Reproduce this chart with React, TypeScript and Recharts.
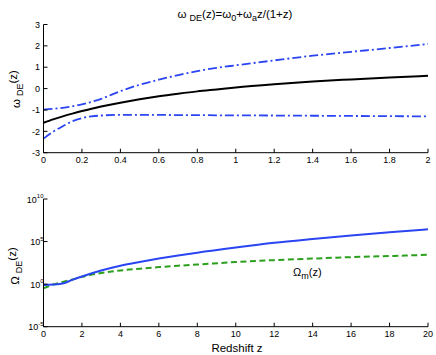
import { LineChart, Line, XAxis, YAxis } from "recharts"

const FONT = "'Liberation Sans', Arial, Helvetica, sans-serif"

// top panel: equation of state w_DE(z)
const wZ = [0, 0.05, 0.1, 0.15, 0.2, 0.25, 0.3, 0.4, 0.5, 0.6, 0.7, 0.8, 0.9, 1.0, 1.2, 1.4, 1.6, 1.8, 2.0]
const wBest = [-1.6, -1.44, -1.3, -1.17, -1.05, -0.94, -0.84, -0.66, -0.5, -0.36, -0.24, -0.13, -0.04, 0.05, 0.2, 0.33, 0.43, 0.52, 0.6]
const wUpper = [-0.98, -0.95, -0.9, -0.83, -0.74, -0.62, -0.48, -0.12, 0.18, 0.42, 0.63, 0.82, 0.97, 1.09, 1.32, 1.54, 1.72, 1.9, 2.09]
const wLower = [-2.34, -2.02, -1.76, -1.53, -1.38, -1.3, -1.26, -1.23, -1.23, -1.23, -1.24, -1.24, -1.25, -1.25, -1.26, -1.27, -1.28, -1.29, -1.3]
const wXTicks = [0, 0.2, 0.4, 0.6, 0.8, 1, 1.2, 1.4, 1.6, 1.8, 2]
const wYTicks = [-3, -2, -1, 0, 1, 2, 3]

// bottom panel: density parameters (log scale)
const omegaZ = [0, 0.5, 1, 1.5, 2, 3, 4, 5, 6, 7, 8, 10, 12, 14, 16, 18, 20]
const omegaDE = [0.8, 0.9, 1.2, 3.2, 8, 40, 145, 400, 1000, 2300, 5000, 20000, 71000, 200000, 525000, 1260000, 2800000]
const omegaM = [0.32, 0.89, 1.8, 3.5, 7.2, 20, 40, 66, 100, 145, 200, 400, 660, 1000, 1480, 2000, 2800]
const omegaXTicks = [0, 2, 4, 6, 8, 10, 12, 14, 16, 18, 20]
const omegaYTicks = [1e-5, 1, 1e5, 1e10]

const wData = wZ.map((z, i) => ({ z, best: wBest[i], upper: wUpper[i], lower: wLower[i] }))
const omegaData = omegaZ.map((z, i) => ({ z, de: omegaDE[i], m: omegaM[i] }))

const tickStyle = { fontSize: 9, fill: "#000", fontFamily: FONT }
const BLUE = "#2b45f2"
const GREEN = "#2ba01c"

function PowerTick({ x, y, payload }: any) {
  const exp = Math.round(Math.log10(payload.value))
  return (
    <text x={x} y={y} dy={3.5} textAnchor="end" fontSize={9} fill="#000" fontFamily={FONT}>
      10
      <tspan dy={-4.5} fontSize={6}>
        {exp}
      </tspan>
    </text>
  )
}

const noTick = () => <g />

export default function App() {
  return (
    <div style={{ position: "absolute", left: 0, top: 0, width: 436, height: 355, background: "#fff" }}>
      <div style={{ position: "absolute", left: 0, top: 0 }}>
        <LineChart width={436} height={180} data={wData} margin={{ top: 24.5, right: 8, bottom: 0, left: 0 }}>
          <XAxis
            dataKey="z"
            type="number"
            domain={[0, 2]}
            ticks={wXTicks}
            height={27.3}
            tickSize={-4}
            tickMargin={8}
            tick={tickStyle}
            stroke="#000"
            interval={0}
          />
          <XAxis xAxisId="top" orientation="top" dataKey="z" type="number" domain={[0, 2]} ticks={wXTicks} height={0} tickSize={-4} tick={noTick} stroke="#555" interval={0} />
          <YAxis
            type="number"
            domain={[-3, 3]}
            ticks={wYTicks}
            width={43.5}
            tickSize={-4}
            tickMargin={7.5}
            tick={tickStyle}
            stroke="#000"
            interval={0}
          />
          <YAxis yAxisId="right" orientation="right" type="number" domain={[-3, 3]} ticks={wYTicks} width={0} tickSize={-4} tick={noTick} stroke="#555" interval={0} />
          <Line type="monotone" dataKey="upper" stroke={BLUE} strokeWidth={1.8} strokeDasharray="9 3 2 3" dot={false} isAnimationActive={false} />
          <Line type="monotone" dataKey="lower" stroke={BLUE} strokeWidth={1.8} strokeDasharray="9 3 2 3" dot={false} isAnimationActive={false} />
          <Line type="monotone" dataKey="best" stroke="#000" strokeWidth={2} dot={false} isAnimationActive={false} />
        </LineChart>
      </div>
      <div style={{ position: "absolute", left: 0, top: 180 }}>
        <LineChart width={436} height={175} data={omegaData} margin={{ top: 19, right: 8, bottom: 0, left: 0 }}>
          <XAxis
            dataKey="z"
            type="number"
            domain={[0, 20]}
            ticks={omegaXTicks}
            height={28.3}
            tickSize={-4}
            tickMargin={8}
            tick={tickStyle}
            stroke="#000"
            interval={0}
          />
          <XAxis xAxisId="top" orientation="top" dataKey="z" type="number" domain={[0, 20]} ticks={omegaXTicks} height={0} tickSize={-4} tick={noTick} stroke="#555" interval={0} />
          <YAxis
            type="number"
            scale="log"
            domain={[1e-5, 1e10]}
            ticks={omegaYTicks}
            allowDataOverflow
            width={43.5}
            tickSize={-4}
            tickMargin={4}
            tick={<PowerTick />}
            stroke="#000"
            interval={0}
          />
          <YAxis yAxisId="right" orientation="right" type="number" scale="log" domain={[1e-5, 1e10]} ticks={omegaYTicks} allowDataOverflow width={0} tickSize={-4} tick={noTick} stroke="#555" interval={0} />
          <Line type="monotone" dataKey="m" stroke={GREEN} strokeWidth={2} strokeDasharray="6 3.5" dot={false} isAnimationActive={false} />
          <Line type="monotone" dataKey="de" stroke={BLUE} strokeWidth={2} dot={false} isAnimationActive={false} />
        </LineChart>
      </div>
      <svg width={436} height={355} style={{ position: "absolute", left: 0, top: 0, pointerEvents: "none" }} fontFamily={FONT} fill="#000">
        <text x={235} y={18} textAnchor="middle" fontSize={11.5}>
          ω<tspan dx={3} dy={3} fontSize={9}>DE</tspan>
          <tspan dy={-3}>(z)=ω</tspan>
          <tspan dy={3} fontSize={9}>0</tspan>
          <tspan dy={-3}>+ω</tspan>
          <tspan dy={3} fontSize={9}>a</tspan>
          <tspan dy={-3}>z/(1+z)</tspan>
        </text>
        <text transform="translate(20,89) rotate(-90)" textAnchor="middle" fontSize={11.5}>
          ω<tspan dx={3} dy={3} fontSize={9}>DE</tspan>
          <tspan dy={-6}>(z)</tspan>
        </text>
        <text transform="translate(19,266) rotate(-90)" textAnchor="middle" fontSize={11.5}>
          Ω<tspan dx={3} dy={3} fontSize={9}>DE</tspan>
          <tspan dy={-6}>(z)</tspan>
        </text>
        <text x={293} y={276} fontSize={11}>
          Ω<tspan dy={3} fontSize={9}>m</tspan>
          <tspan dy={-3}>(z)</tspan>
        </text>
        <text x={237} y={352} textAnchor="middle" fontSize={11.5}>
          Redshift z
        </text>
      </svg>
    </div>
  )
}
